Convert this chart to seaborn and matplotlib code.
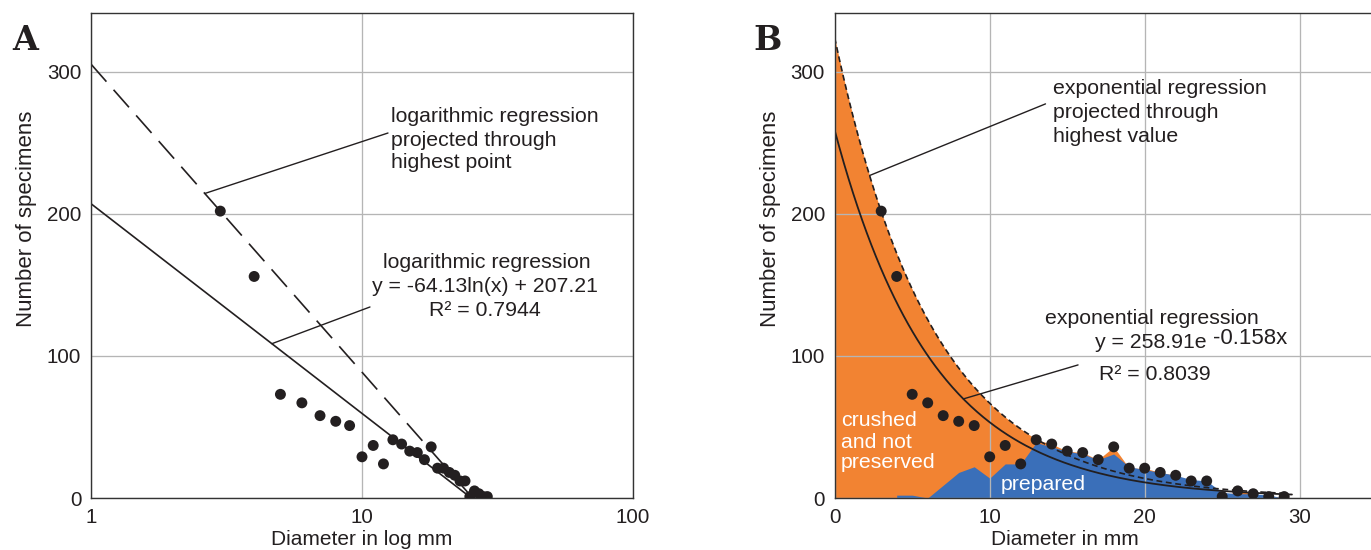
import numpy as np
import pandas as pd
import matplotlib
matplotlib.use("Agg")
import matplotlib.pyplot as plt
import seaborn as sns

# ---------------- data ----------------
diameter_mm = [3, 4, 5, 6, 7, 8, 9, 10, 11, 12, 13, 14, 15, 16, 17, 18, 19, 20,
               21, 22, 23, 24, 25, 26, 27, 28, 29]
specimens = [202, 156, 73, 67, 58, 54, 51, 29, 37, 24, 41, 38, 33, 32, 27, 36,
             21, 21, 18, 16, 12, 12, 1, 5, 3, 1, 1]

prepared_x = [4, 5, 6, 7, 8, 9, 10, 11, 12, 13, 14, 15, 16, 17, 18, 19, 20, 21,
              22, 23, 24, 25, 26, 27, 28, 29]
prepared_n = [2, 2, 0, 9, 18, 22, 14, 24, 24, 39, 36, 33, 31, 27, 31, 22, 20, 18,
              16, 13, 12, 4, 3, 3, 2, 0]

# regression parameters as printed / projected on the chart
log_slope, log_icpt = -64.13, 207.21
log_proj_slope, log_proj_icpt = -94.2, 305.5
exp_a, exp_b = 258.91, -0.158
exp_proj_a = 324.0
projection_end = 13

y_ticks = [0, 100, 200, 300]
xa_ticks = [1, 10, 100]
xb_ticks = [0, 10, 20, 30]

# ---------------- styling ----------------
sns.set_style("white")
plt.rcParams["font.family"] = ["Liberation Sans", "DejaVu Sans"]
INK = "#231f20"
GRID = "#b5b5b5"
ORANGE = "#f28332"
BLUE = "#3a6fb9"
FS = 15.3

W, H = 1371, 550
fig = plt.figure(figsize=(W / 100, H / 100), dpi=100)

def px_axes(l, t, r, b):
    return [l / W, 1 - b / H, (r - l) / W, (b - t) / H]

ax_a = fig.add_axes(px_axes(91, 13, 633, 498))
ax_b = fig.add_axes(px_axes(834.7, 13, 834.7 + 40 * 15.5, 498))

def ftext(x, y, s, **kw):
    kw.setdefault("fontsize", FS)
    kw.setdefault("color", INK)
    fig.text(x / W, 1 - y / H, s, **kw)

def style_axes(ax):
    ax.set_ylim(0, 341.5)
    ax.set_yticks(y_ticks)
    ax.set_axisbelow("line")
    ax.grid(True, which="major", color=GRID, lw=0.95)
    ax.tick_params(length=0, labelsize=14.8, colors=INK, pad=7)
    for s in ax.spines.values():
        s.set_color("#333333")
        s.set_linewidth(1.0)
        s.set_visible(True)

# ---------------- panel A ----------------
ax = ax_a
xa = np.geomspace(1, np.exp(-log_icpt / log_slope), 60)
sns.lineplot(x=xa, y=log_slope * np.log(xa) + log_icpt, ax=ax, color=INK, lw=1.2,
             sort=True, estimator=None)
xa2 = np.geomspace(1, np.exp(-log_proj_icpt / log_proj_slope), 60)
sns.lineplot(x=xa2, y=log_proj_slope * np.log(xa2) + log_proj_icpt, ax=ax,
             color=INK, lw=1.2, linestyle=(0, (14, 6.5)), sort=True, estimator=None)
sns.scatterplot(x=diameter_mm, y=specimens, ax=ax, s=62, color=INK,
                edgecolor="none", zorder=4)
ax.set_xscale("log")
ax.set_xlim(1, 100)
ax.set_xticks(xa_ticks)
ax.set_xticklabels([str(v) for v in xa_ticks])
ax.xaxis.set_minor_locator(matplotlib.ticker.NullLocator())
style_axes(ax)
ax.set_xlabel("Diameter in log mm", fontsize=15, color=INK)
ax.xaxis.set_label_coords(0.5, -0.066)
ax.set_ylabel("Number of specimens", fontsize=16, color=INK)
ax.yaxis.set_label_coords(-0.1, 0.575)

# leader lines A
x1 = 2.63
ax.annotate("", xy=(x1, log_proj_slope * np.log(x1) + log_proj_icpt), xytext=(12.47, 257),
            arrowprops=dict(arrowstyle="-", color=INK, lw=1.0, shrinkA=0, shrinkB=0))
x2 = 4.65
ax.annotate("", xy=(x2, log_slope * np.log(x2) + log_icpt), xytext=(10.7, 134.5),
            arrowprops=dict(arrowstyle="-", color=INK, lw=1.0, shrinkA=0, shrinkB=0))

ftext(391, 117, "logarithmic regression", va="center", ha="left")
ftext(391, 140, "projected through", va="center", ha="left")
ftext(391, 163, "highest point", va="center", ha="left")
ftext(487, 262, "logarithmic regression", va="center", ha="center")
ftext(485, 286, "y = -64.13ln(x) + 207.21", va="center", ha="center")
ftext(485, 310, "R² = 0.7944", va="center", ha="center")
ftext(25, 40, "A", va="center", ha="center", fontsize=24, fontweight="bold",
      family="DejaVu Serif")

# ---------------- panel B ----------------
ax = ax_b
xf = np.linspace(0, max(diameter_mm), 600)
dashed_curve = exp_proj_a * np.exp(exp_b * xf)
orange_top = np.where(xf <= projection_end, dashed_curve,
                      np.interp(xf, diameter_mm, specimens))
ax.fill_between(xf, 0, orange_top, color=ORANGE, lw=0, zorder=1)
ax.fill_between(prepared_x, 0, prepared_n, color=BLUE, lw=0, zorder=1.1)

xs = np.linspace(0, 29.5, 300)
sns.lineplot(x=xs, y=exp_a * np.exp(exp_b * xs), ax=ax, color=INK, lw=1.3,
             sort=True, estimator=None)
xd = np.linspace(0, 29, 300)
sns.lineplot(x=xd, y=exp_proj_a * np.exp(exp_b * xd), ax=ax, color=INK, lw=1.2,
             linestyle=(0, (3.5, 2.2)), sort=True, estimator=None)
sns.scatterplot(x=diameter_mm, y=specimens, ax=ax, s=62, color=INK,
                edgecolor="none", zorder=4)
ax.set_xlim(0, 40)
ax.set_xticks(xb_ticks)
ax.set_xticklabels([str(v) for v in xb_ticks])
style_axes(ax)
ax.set_xlabel("Diameter in mm", fontsize=15, color=INK)
ax.xaxis.set_label_coords((1065 - 834.7) / 620, -0.066)
ax.set_ylabel("Number of specimens", fontsize=16, color=INK)
ax.yaxis.set_label_coords(-0.086, 0.575)

xb1 = 2.25
ax.annotate("", xy=(xb1, exp_proj_a * np.exp(exp_b * xb1)), xytext=(13.6, 277.5),
            arrowprops=dict(arrowstyle="-", color=INK, lw=1.0, shrinkA=0, shrinkB=0))
xb2 = 8.3
ax.annotate("", xy=(xb2, exp_a * np.exp(exp_b * xb2)), xytext=(15.7, 93.7),
            arrowprops=dict(arrowstyle="-", color=INK, lw=1.0, shrinkA=0, shrinkB=0))

ftext(1053, 89, "exponential regression", va="center", ha="left")
ftext(1053, 113, "projected through", va="center", ha="left")
ftext(1053, 136, "highest value", va="center", ha="left")
ftext(1045, 319, "exponential regression", va="center", ha="left")
ftext(1095, 342, "y = 258.91e", va="center", ha="left")
ftext(1213, 338, "-0.158x", va="center", ha="left", fontsize=16)
ftext(1099, 375, "R² = 0.8039", va="center", ha="left")
ftext(841, 421, "crushed", va="center", ha="left", color="white")
ftext(841, 442, "and not", va="center", ha="left", color="white")
ftext(841, 463, "preserved", va="center", ha="left", color="white")
ftext(1001, 485, "prepared", va="center", ha="left", color="white")
ftext(768, 40, "B", va="center", ha="center", fontsize=24, fontweight="bold",
      family="DejaVu Serif")

fig.savefig("out.png", dpi=100)
